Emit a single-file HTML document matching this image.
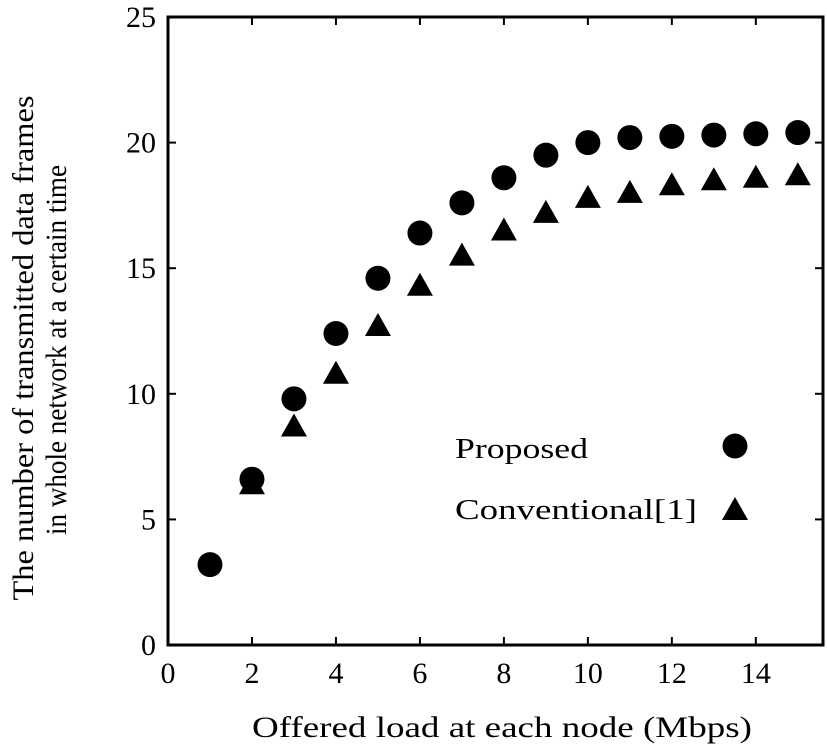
<!DOCTYPE html>
<html><head><meta charset="utf-8"><style>body{margin:0;background:#fff}svg{display:block;font-family:"Liberation Serif",serif}</style></head>
<body>
<svg width="827" height="748">
<g id="root"></g>
</svg>
<script>
const xVals=[1,2,3,4,5,6,7,8,9,10,11,12,13,14,15];
const proposed=[3.2,6.6,9.8,12.4,14.6,16.4,17.6,18.6,19.5,20.0,20.2,20.25,20.3,20.35,20.4];
const convX=[2,3,4,5,6,7,8,9,10,11,12,13,14,15];
const conventional=[6.4,8.7,10.8,12.7,14.3,15.5,16.5,17.2,17.8,18.0,18.3,18.5,18.6,18.7];
const xTicks=[0,2,4,6,8,10,12,14];
const yTicks=[0,5,10,15,20,25];
const NS="http://www.w3.org/2000/svg";
const L=168,R=823,T=17,B=645,XMAX=15.6,YMAX=25;
const sx=v=>L+v/XMAX*(R-L), sy=v=>B-v/YMAX*(B-T);
const root=document.getElementById('root');
function el(t,a,txt){const e=document.createElementNS(NS,t);for(const k in a)e.setAttribute(k,a[k]);if(txt!==undefined)e.textContent=txt;root.appendChild(e);return e;}
let f=el('rect',{x:L,y:T,width:R-L,height:B-T,fill:'none',stroke:'#000','stroke-width':3});

xTicks.forEach(v=>{
 let t=el('line',{x1:sx(v),x2:sx(v),y1:B,y2:B-8,stroke:'#000','stroke-width':2});
 
 let t2=el('line',{x1:sx(v),x2:sx(v),y1:T,y2:T+8,stroke:'#000','stroke-width':2});
 
 let l=el('text',{x:sx(v),y:B+38,'text-anchor':'middle','font-size':30},String(v));
 
});
yTicks.forEach(v=>{
 let t=el('line',{x1:L,x2:L+8,y1:sy(v),y2:sy(v),stroke:'#000','stroke-width':2});
 
 let t2=el('line',{x1:R,x2:R-8,y1:sy(v),y2:sy(v),stroke:'#000','stroke-width':2});
 
 let l=el('text',{x:L-12,y:sy(v)+10,'text-anchor':'end','font-size':30},String(v));
 
});
function tri(cx,cy){return `${cx-13},${cy+10} ${cx+13},${cy+10} ${cx},${cy-13}`;}
convX.forEach((x,i)=>{
 let p=el('polygon',{points:tri(sx(x),sy(conventional[i])),fill:'#000'});
 
});
xVals.forEach((x,i)=>{
 let c=el('circle',{cx:sx(x),cy:sy(proposed[i]),r:12.5,fill:'#000'});
 
});
let a=el('text',{x:455,y:458,'font-size':28,textLength:133,lengthAdjust:'spacingAndGlyphs'},'Proposed');
let b=el('circle',{cx:735,cy:446,r:12.5,fill:'#000'});
let c=el('text',{x:455,y:519,'font-size':28,textLength:242,lengthAdjust:'spacingAndGlyphs'},'Conventional[1]');
let d=el('polygon',{points:tri(735,510),fill:'#000'});
let xt=el('text',{x:252,y:737,'font-size':30,textLength:500,lengthAdjust:'spacingAndGlyphs'},'Offered load at each node (Mbps)');

let y1=el('text',{x:0,y:0,'text-anchor':'middle','font-size':30,textLength:505,lengthAdjust:'spacingAndGlyphs',transform:'translate(33,348) rotate(-90)'},'The number of transmitted data frames');

let y2=el('text',{x:0,y:0,'text-anchor':'middle','font-size':30,textLength:370,lengthAdjust:'spacingAndGlyphs',transform:'translate(66,350) rotate(-90)'},'in whole network at a certain time');

</script>
</body></html>
